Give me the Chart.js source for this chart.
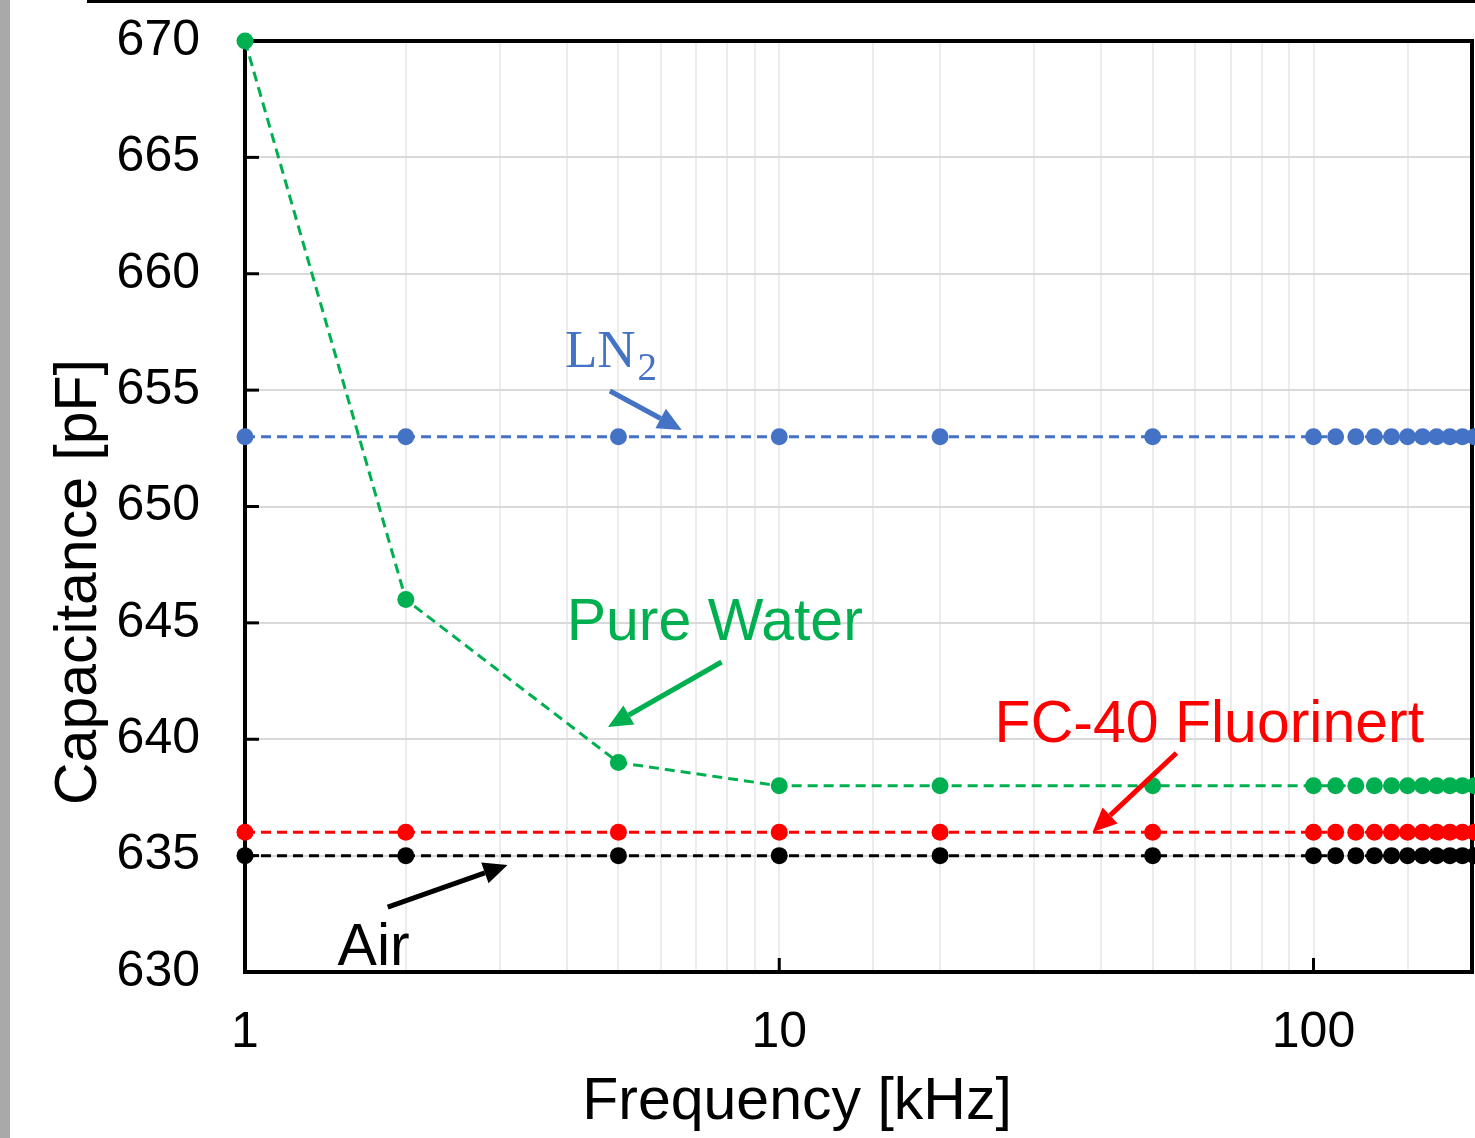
<!DOCTYPE html>
<html>
<head>
<meta charset="utf-8">
<script src="https://cdn.jsdelivr.net/npm/chart.js@4.4.1/dist/chart.umd.min.js"></script>
<style>
  html, body { margin: 0; padding: 0; background: #fff; }
</style>
</head>
<body>
<canvas id="capChart" width="1475" height="1138"></canvas>
<script>
// Frequency points [kHz]
var freqs = [1, 2, 5, 10, 20, 50, 100, 110, 120, 130, 140, 150, 160, 170, 180, 190, 200];

// Capacitance [pF] per medium
var ln2   = [653, 653, 653, 653, 653, 653, 653, 653, 653, 653, 653, 653, 653, 653, 653, 653, 653];
var water = [670, 646, 639, 638, 638, 638, 638, 638, 638, 638, 638, 638, 638, 638, 638, 638, 638];
var fc40  = [636, 636, 636, 636, 636, 636, 636, 636, 636, 636, 636, 636, 636, 636, 636, 636, 636];
var air   = [635, 635, 635, 635, 635, 635, 635, 635, 635, 635, 635, 635, 635, 635, 635, 635, 635];

// axis ranges / labelled ticks
var xMajor = [1, 10, 100];
var xMax = 198;
var yMin = 630, yMax = 670, yStep = 5;

function toPoints(vals) {
  return freqs.map(function (f, i) { return { x: f, y: vals[i] }; });
}

function series(label, vals, color) {
  return {
    label: label,
    data: toPoints(vals),
    borderColor: color,
    backgroundColor: color,
    borderWidth: 3,
    borderDash: [10, 6],
    pointRadius: 8.5,
    pointBorderWidth: 0,
    showLine: true,
    clip: false
  };
}

// text labels with arrows, placed in data units
var notes = [
  { text: 'Pure Water', color: '#00B050', at: [4.0, 644.26], tail: [7.8, 643.32], head: [4.78, 640.53] },
  { text: 'FC-40 Fluorinert', color: '#FF0000', at: [25.3, 639.88], tail: [55.4, 639.41], head: [38.6, 636.02] },
  { text: 'Air', color: '#000000', at: [1.49, 630.3], tail: [1.85, 632.79], head: [3.10, 634.6] },
  { text: 'LN', sub: '2', color: '#4472C4', at: [3.97, 656.0], tail: [4.82, 654.96], head: [6.57, 653.29] }
];

function drawArrow(ctx, x1, y1, x2, y2, color) {
  var ang = Math.atan2(y2 - y1, x2 - x1);
  var L = 24, W = 11;
  var bx = x2 - L * Math.cos(ang), by = y2 - L * Math.sin(ang);
  ctx.strokeStyle = color;
  ctx.fillStyle = color;
  ctx.lineWidth = 5;
  ctx.setLineDash([]);
  ctx.beginPath();
  ctx.moveTo(x1, y1);
  ctx.lineTo(bx, by);
  ctx.stroke();
  ctx.beginPath();
  ctx.moveTo(x2, y2);
  ctx.lineTo(bx + W * Math.sin(ang), by - W * Math.cos(ang));
  ctx.lineTo(bx - W * Math.sin(ang), by + W * Math.cos(ang));
  ctx.closePath();
  ctx.fill();
}

// no label overhang padding: plot box is set by layout.padding only
function noPad(s) {
  s.paddingTop = 0; s.paddingBottom = 0; s.paddingLeft = 0; s.paddingRight = 0;
}

var framePlugin = {
  id: 'frame',
  beforeDraw: function (chart) {
    var ctx = chart.ctx;
    ctx.save();
    // cropped page edges
    ctx.fillStyle = '#a9a9a9';
    ctx.fillRect(0, 0, 10, chart.height);
    ctx.fillStyle = '#000';
    ctx.fillRect(87, 0, chart.width - 87, 3);
    ctx.restore();
  },
  beforeDatasetsDraw: function (chart) {
    var ctx = chart.ctx, a = chart.chartArea;
    var xs = chart.scales.x, ys = chart.scales.y;
    ctx.save();
    ctx.strokeStyle = '#000';
    ctx.lineWidth = 3;
    // inner ticks
    for (var v = yMin + yStep; v < yMax; v += yStep) {
      var py = ys.getPixelForValue(v);
      ctx.beginPath(); ctx.moveTo(a.left, py); ctx.lineTo(a.left + 14, py); ctx.stroke();
    }
    xMajor.forEach(function (f) {
      var px = xs.getPixelForValue(f);
      ctx.beginPath(); ctx.moveTo(px, a.bottom); ctx.lineTo(px, a.bottom - 14); ctx.stroke();
    });
    ctx.lineWidth = 4;
    ctx.strokeRect(a.left, a.top, a.right - a.left, a.bottom - a.top);
    ctx.restore();
  },
  afterDatasetsDraw: function (chart) {
    var ctx = chart.ctx;
    var xs = chart.scales.x, ys = chart.scales.y;
    ctx.save();
    notes.forEach(function (n) {
      var tx = xs.getPixelForValue(n.at[0]), ty = ys.getPixelForValue(n.at[1]);
      ctx.fillStyle = n.color;
      ctx.textAlign = 'left';
      ctx.textBaseline = 'alphabetic';
      if (n.sub) {
        ctx.font = '53px "Liberation Serif", "DejaVu Serif", serif';
        ctx.fillText(n.text, tx, ty);
        var w = ctx.measureText(n.text).width;
        ctx.font = '39px "Liberation Serif", "DejaVu Serif", serif';
        ctx.fillText(n.sub, tx + w + 2, ty + 13);
      } else {
        ctx.font = '59px "Liberation Sans", Arial, sans-serif';
        ctx.fillText(n.text, tx, ty);
      }
      drawArrow(ctx,
        xs.getPixelForValue(n.tail[0]), ys.getPixelForValue(n.tail[1]),
        xs.getPixelForValue(n.head[0]), ys.getPixelForValue(n.head[1]), n.color);
    });

    // axis titles
    ctx.fillStyle = '#000';
    ctx.font = '59px "Liberation Sans", Arial, sans-serif';
    ctx.textAlign = 'center';
    ctx.textBaseline = 'alphabetic';
    ctx.fillText('Frequency [kHz]', 797, 1119);

    ctx.translate(80, 582);
    ctx.rotate(-Math.PI / 2);
    ctx.font = '59px "Liberation Sans", Arial, sans-serif';
    ctx.textBaseline = 'middle';
    ctx.fillText('Capacitance [pF]', 0, 0);
    ctx.restore();
  }
};

var ctx = document.getElementById('capChart').getContext('2d');
var chart = new Chart(ctx, {
  type: 'scatter',
  data: {
    datasets: [
      series('Air', air, '#000000'),
      series('FC-40 Fluorinert', fc40, '#FF0000'),
      series('Pure Water', water, '#00B050'),
      series('LN2', ln2, '#4472C4')
    ]
  },
  options: {
    responsive: false,
    animation: false,
    layout: { autoPadding: false, padding: { top: 41, right: 3, left: 0, bottom: 0 } },
    plugins: {
      legend: { display: false },
      tooltip: { enabled: false }
    },
    scales: {
      x: {
        type: 'logarithmic',
        min: 1,
        max: xMax,
        border: { display: false },
        grid: { color: '#ececec', lineWidth: 2, drawTicks: false },
        ticks: {
          autoSkip: false,
          maxRotation: 0,
          padding: 31,
          color: '#000',
          font: { family: '"Liberation Sans", Arial, sans-serif', size: 50 },
          callback: function (v) { return xMajor.indexOf(v) >= 0 ? String(v) : ''; }
        },
        afterFit: function (s) { s.height = 166; noPad(s); }
      },
      y: {
        min: yMin,
        max: yMax,
        border: { display: false },
        grid: { color: '#d9d9d9', lineWidth: 2, drawTicks: false },
        ticks: {
          stepSize: yStep,
          padding: 45,
          color: '#000',
          font: { family: '"Liberation Sans", Arial, sans-serif', size: 50 }
        },
        afterFit: function (s) { s.width = 245; noPad(s); }
      }
    }
  },
  plugins: [framePlugin]
});
</script>
</body>
</html>
